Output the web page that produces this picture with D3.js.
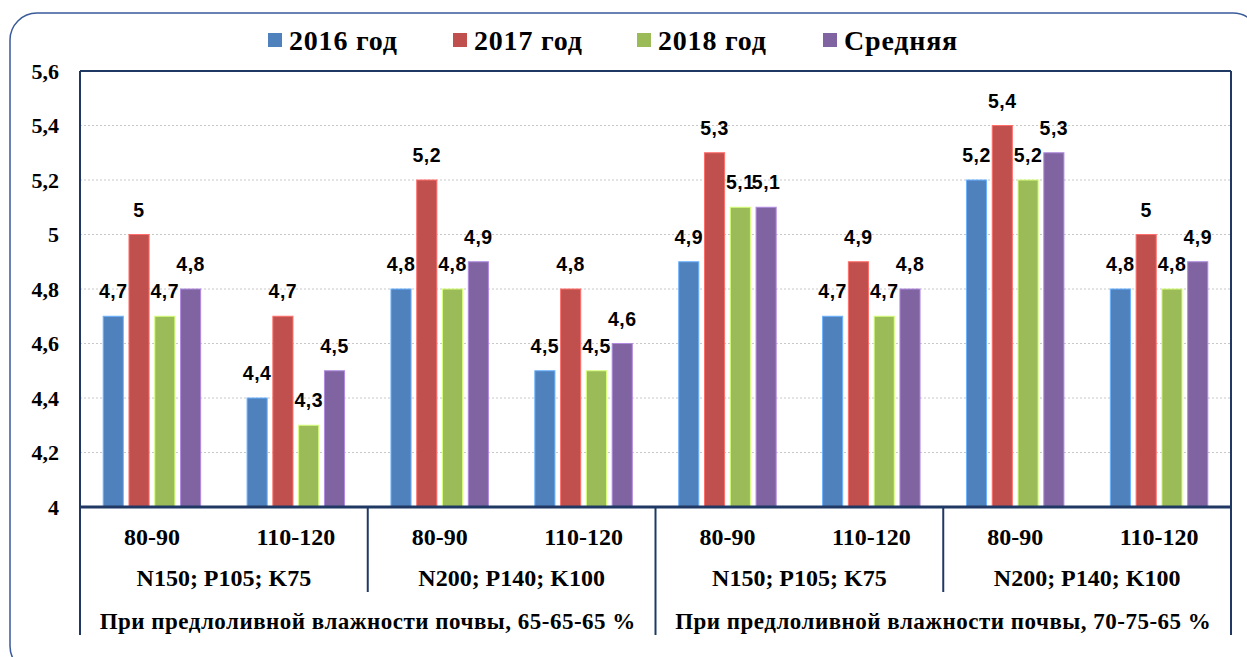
<!DOCTYPE html>
<html>
<head>
<meta charset="utf-8">
<script src="https://cdn.jsdelivr.net/npm/d3@7"></script>
<style>
  body { margin: 0; background: #fff; }
  svg { display: block; }
</style>
</head>
<body>
<div id="chart"></div>
<script>
// Data
var years = ["2016 год", "2017 год", "2018 год", "Средняя"];
var depths = ["80-90", "110-120", "80-90", "110-120", "80-90", "110-120", "80-90", "110-120"];
var doses = ["N150; P105; K75", "N200; P140; K100", "N150; P105; K75", "N200; P140; K100"];
var regimes = ["При предлоливной влажности почвы, 65-65-65 %", "При предлоливной влажности почвы, 70-75-65 %"];
var v2016 = [4.7, 4.4, 4.8, 4.5, 4.9, 4.7, 5.2, 4.8];
var v2017 = [5.0, 4.7, 5.2, 4.8, 5.3, 4.9, 5.4, 5.0];
var v2018 = [4.7, 4.3, 4.8, 4.5, 5.1, 4.7, 5.2, 4.8];
var vMean = [4.8, 4.5, 4.9, 4.6, 5.1, 4.8, 5.3, 4.9];
var yTicks = [4, 4.2, 4.4, 4.6, 4.8, 5, 5.2, 5.4, 5.6];
var colors = ["#4F81BD", "#C0504D", "#9BBB59", "#8064A2"];

var series = [v2016, v2017, v2018, vMean];

var W = 1247, H = 657;
var margin = {top: 71, right: 16, bottom: 150, left: 80};
var width = W - margin.left - margin.right,
    height = H - margin.top - margin.bottom;
var navy = "#1F3864";
var serif = "'Liberation Serif', 'Times New Roman', serif";
var sans = "'Liberation Sans', Arial, sans-serif";

var ru = d3.formatLocale({decimal: ",", thousands: " ", grouping: [3], currency: ["", ""]});
var fmt = ru.format(".2~f");

var svg = d3.select("#chart").append("svg")
    .attr("width", W)
    .attr("height", H);

// outer rounded frame
svg.append("rect")
    .attr("x", 10).attr("y", 13)
    .attr("width", 1250).attr("height", 660)
    .attr("rx", 27).attr("ry", 27)
    .attr("fill", "none")
    .attr("stroke", "#3A5A9A")
    .attr("stroke-width", 1.5);

var g = svg.append("g")
    .attr("transform", "translate(" + margin.left + "," + margin.top + ")");

// scales
var x0 = d3.scaleBand()
    .domain(d3.range(depths.length))
    .range([0, width]);

var x1 = d3.scaleBand()
    .domain(d3.range(years.length))
    .range([0, x0.bandwidth()])
    .paddingInner(0.22)
    .paddingOuter(0.9);

var y = d3.scaleLinear()
    .domain([4, 5.6])
    .range([height, 0]);

// gridlines
g.append("g")
  .selectAll("line")
  .data(yTicks.slice(1, -1))
  .join("line")
    .attr("x1", 0).attr("x2", width)
    .attr("y1", d => y(d)).attr("y2", d => y(d))
    .attr("stroke", "#c8c8c8")
    .attr("stroke-width", 1)
    .attr("stroke-dasharray", "2,2");

// y axis labels
var yAxis = g.append("g")
    .call(d3.axisLeft(y).tickValues(yTicks).tickFormat(fmt).tickSize(0).tickPadding(21));
yAxis.select(".domain").remove();
yAxis.selectAll("text")
    .attr("font-family", serif)
    .attr("font-weight", "bold")
    .attr("font-size", 22)
    .attr("fill", "#000");

// bars
var groups = g.append("g")
  .selectAll("g")
  .data(depths.map((d, i) => i))
  .join("g")
    .attr("transform", i => "translate(" + x0(i) + ",0)");

groups.selectAll("rect")
  .data(i => series.map((s, k) => ({k: k, v: s[i]})))
  .join("rect")
    .attr("x", d => x1(d.k))
    .attr("y", d => y(d.v))
    .attr("width", x1.bandwidth())
    .attr("height", d => y(4) - y(d.v))
    .attr("fill", d => colors[d.k])
    .attr("stroke", d => d3.color(colors[d.k]).brighter(0.9))
    .attr("stroke-width", 1);

groups.selectAll("text")
  .data(i => series.map((s, k) => ({k: k, v: s[i]})))
  .join("text")
    .attr("x", d => x1(d.k) + x1.bandwidth() / 2)
    .attr("y", d => y(d.v) - 18)
    .attr("text-anchor", "middle")
    .attr("font-family", sans)
    .attr("font-weight", "bold")
    .attr("font-size", 19.5)
    .attr("letter-spacing", 0.5)
    .attr("fill", "#000")
    .text(d => fmt(d.v));

// plot frame
g.append("line")
    .attr("x1", 0).attr("x2", width).attr("y1", 0).attr("y2", 0)
    .attr("stroke", navy).attr("stroke-width", 2);
g.append("line")
    .attr("x1", 0).attr("x2", width).attr("y1", height).attr("y2", height)
    .attr("stroke", navy).attr("stroke-width", 3);

// vertical lines: outer edges and separators
var sepLong = [0, 4, 8], sepShort = [2, 6];
function bx(i) { return i === depths.length ? width : x0(i); }
g.append("g")
  .selectAll("line")
  .data(sepLong)
  .join("line")
    .attr("x1", d => bx(d)).attr("x2", d => bx(d))
    .attr("y1", d => (d === 4 ? height : 0)).attr("y2", height + 128)
    .attr("stroke", navy).attr("stroke-width", 2);
g.append("g")
  .selectAll("line")
  .data(sepShort)
  .join("line")
    .attr("x1", d => bx(d)).attr("x2", d => bx(d))
    .attr("y1", height).attr("y2", height + 85)
    .attr("stroke", navy).attr("stroke-width", 2);

// category labels
function label(sel, size) {
  return sel.attr("text-anchor", "middle")
    .attr("font-family", serif)
    .attr("font-weight", "bold")
    .attr("font-size", size)
    .attr("fill", "#000");
}
label(g.append("g").selectAll("text").data(depths).join("text"), 24)
    .attr("x", (d, i) => x0(i) + x0.bandwidth() / 2)
    .attr("y", height + 38)
    .text(d => d);
label(g.append("g").selectAll("text").data(doses).join("text"), 24)
    .attr("x", (d, i) => bx(i * 2 + 2) / 2 + bx(i * 2) / 2)
    .attr("y", height + 79)
    .text(d => d);
label(g.append("g").selectAll("text").data(regimes).join("text"), 23)
    .attr("x", (d, i) => (bx(i * 4) + bx(i * 4 + 4)) / 2)
    .attr("y", height + 122)
    .attr("letter-spacing", 0.5)
    .text(d => d);

// legend
var legendX = [268, 453, 637, 823];
var legend = svg.append("g")
  .selectAll("g")
  .data(years)
  .join("g")
    .attr("transform", (d, i) => "translate(" + legendX[i] + ",33)");
legend.append("rect")
    .attr("width", 14).attr("height", 14)
    .attr("fill", (d, i) => colors[i]);
legend.append("text")
    .attr("x", 21).attr("y", 17)
    .attr("font-family", serif)
    .attr("font-weight", "bold")
    .attr("font-size", 28)
    .attr("letter-spacing", 0.8)
    .attr("fill", "#000")
    .text(d => d);
</script>
</body>
</html>
